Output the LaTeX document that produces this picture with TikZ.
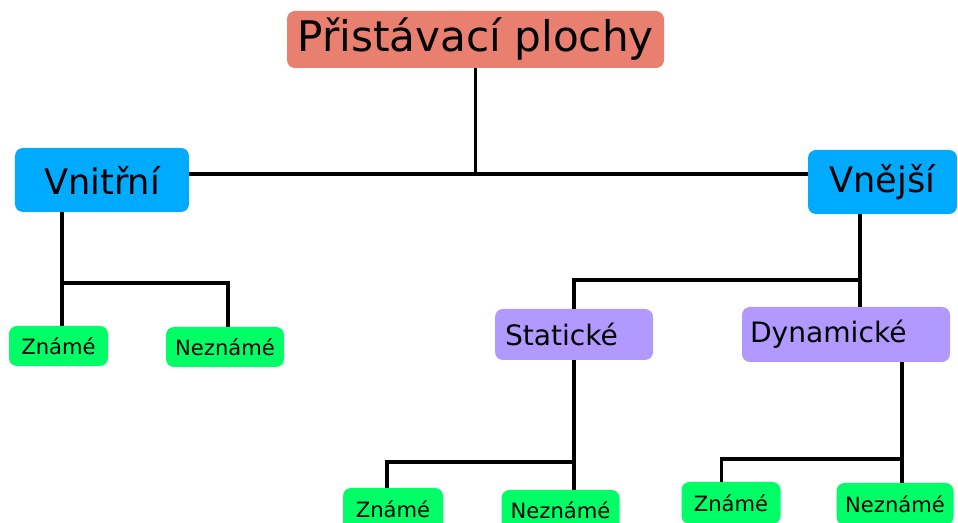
\documentclass[tikz,border=0pt]{standalone}
\usepackage{fontspec}
\setmainfont{DejaVu Sans}
\usetikzlibrary{positioning}
\usetikzlibrary{calc}
\tikzstyle{line} = [draw, line width=2.2pt]
\tikzstyle{box} = [rounded corners=0.16cm, inner sep=0pt, align=center]
\definecolor{colorTop}{RGB}{233, 128, 111}
\definecolor{colorSide}{RGB}{0, 170, 255}
\definecolor{colorKind}{RGB}{178, 153, 255}
\definecolor{colorLeaf}{RGB}{0, 255, 102}

\begin{document}
\begin{tikzpicture}

  \clip (0,0) rectangle (19.16,-10.46);

  % ============================== Root ========================================

  \node[box, fill=colorTop, minimum width=7.54cm, minimum height=1.14cm,
    font=\fontsize{24}{28}\selectfont] (pp) at (9.51,-0.79) {Přistávací plochy};
  \node[box, fill=colorSide, minimum width=3.48cm, minimum height=1.28cm,
    font=\fontsize{20}{24}\selectfont] (vn) at (2.04,-3.6) {Vnitřní};
  \node[box, fill=colorSide, minimum width=2.98cm, minimum height=1.28cm,
    font=\fontsize{20}{24}\selectfont] (ve) at (17.65,-3.64) {Vnější};

  % ============================== Vnitrni =====================================

  \node[box, fill=colorLeaf, minimum width=1.98cm, minimum height=0.8cm,
    font=\fontsize{12}{14}\selectfont] (zn1) at (1.17,-6.92) {Známé};
  \node[box, fill=colorLeaf, minimum width=2.36cm, minimum height=0.8cm,
    font=\fontsize{12}{14}\selectfont] (ne1) at (4.5,-6.94) {Neznámé};

  % ============================== Vnejsi ======================================

  \node[box, fill=colorKind, minimum width=3.16cm, minimum height=1.02cm,
    text width=2.76cm, align=left, font=\fontsize{16}{19}\selectfont]
    (st) at (11.48,-6.69) {Statické};
  \node[box, fill=colorKind, minimum width=4.16cm, minimum height=1.1cm,
    text width=3.84cm, align=left, font=\fontsize{16}{19}\selectfont]
    (dy) at (16.92,-6.69) {Dynamické};
  \node[box, fill=colorLeaf, minimum width=2cm, minimum height=0.84cm,
    font=\fontsize{12}{14}\selectfont] (zn2) at (7.86,-10.18) {Známé};
  \node[box, fill=colorLeaf, minimum width=2.36cm, minimum height=0.8cm,
    font=\fontsize{12}{14}\selectfont] (ne2) at (11.21,-10.2) {Neznámé};
  \node[box, fill=colorLeaf, minimum width=1.98cm, minimum height=0.84cm,
    font=\fontsize{12}{14}\selectfont] (zn3) at (14.62,-10.06) {Známé};
  \node[box, fill=colorLeaf, minimum width=2.34cm, minimum height=0.84cm,
    font=\fontsize{12}{14}\selectfont] (ne3) at (17.9,-10.08) {Neznámé};

  % ============================= Connect ======================================
  \coordinate (hl) at ([yshift=0.12cm]vn.east);
  \coordinate (b1) at (1.24,-5.66);
  \coordinate (b2) at (17.2,-5.6);
  \coordinate (b3) at (11.48,-9.24);
  \coordinate (b4) at (18.04,-9.18);

  \path[line]{(hl) -- (hl -| ve.west)};
  \path[line]{(pp.south) -- (pp.south |- hl)};

  \path[line]{(b1 |- vn.south) -- (b1 |- zn1.north)};
  \path[line]{(b1) -| ([xshift=0.06cm]ne1.north)};

  \path[line]{(b2 |- ve.south) -- (b2 |- dy.north)};
  \path[line]{(b2) -| (st.north)};

  \path[line]{(st.south) -- (st.south |- ne2.north)};
  \path[line]{(b3) -| ([xshift=-0.12cm]zn2.north)};

  \path[line]{(b4 |- dy.south) -- (b4 |- ne3.north)};
  \path[line]{(b4) -| ([xshift=-0.19cm]zn3.north)};

\end{tikzpicture}
\end{document}
